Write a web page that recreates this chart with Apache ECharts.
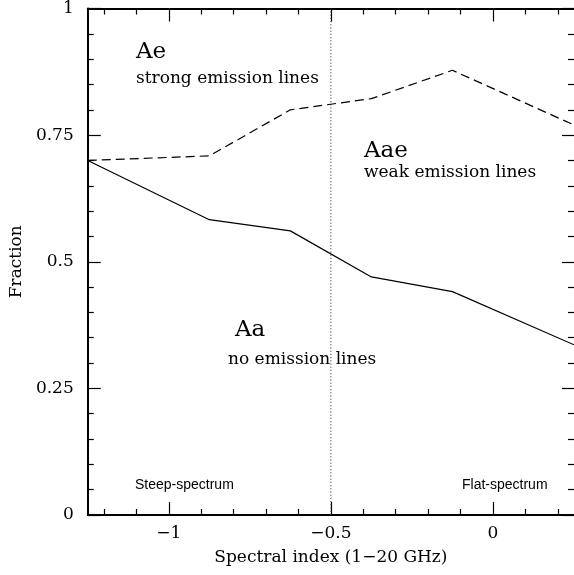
<!DOCTYPE html>
<html>
<head>
<meta charset="utf-8">
<script src="https://cdn.jsdelivr.net/npm/echarts@6/dist/echarts.min.js"></script>
<style>
  html, body { margin: 0; padding: 0; background: #fff; }
  #chart { width: 574px; height: 575px; }
</style>
</head>
<body>
<div id="chart"></div>
<script>
// Spectral-index bins and the fraction of sources in each emission-line class
const spectralIndex = [-1.25, -0.875, -0.625, -0.375, -0.125, 0.25];
const fracNoEmission = [0.700, 0.583, 0.561, 0.470, 0.441, 0.336];   // Aa boundary (solid)
const fracUpToWeak   = [0.700, 0.709, 0.800, 0.822, 0.878, 0.770];   // Aae / Ae boundary (dashed)

// Steep / flat spectrum divide
const divideIndex = -0.5;
const divideLine = [[divideIndex, 0], [divideIndex, 1]];

// Axis ranges and ticks
const xRange = [-1.25, 0.25];
const yRange = [0, 1];
const xMajorTicks = [-1, -0.5, 0];
const xMinorTicks = [-1.2, -1.1, -0.9, -0.8, -0.7, -0.6, -0.4, -0.3, -0.2, -0.1, 0.1, 0.2];
const yMajorTicks = [0, 0.25, 0.5, 0.75, 1];
const yMinorTicks = [0.05, 0.1, 0.15, 0.2, 0.3, 0.35, 0.4, 0.45, 0.55, 0.6, 0.65, 0.7, 0.8, 0.85, 0.9, 0.95];

const SERIF = '"DejaVu Serif", serif';
const SANS = '"Liberation Sans", Arial, sans-serif';
const minus = v => String(v).replace('-', '\u2212');

function zipXY(xs, ys) { return xs.map((x, i) => [x, ys[i]]); }

function xAxisDef(position, ticks, len, opts) {
  return Object.assign({
    type: 'value', position: position, min: xRange[0], max: xRange[1],
    axisLine: { show: false, onZero: false },
    axisTick: { show: true, inside: true, length: len, customValues: ticks, lineStyle: { color: '#000', width: 1.2 } },
    axisLabel: { show: false },
    splitLine: { show: false }
  }, opts || {});
}
function yAxisDef(position, ticks, len, opts) {
  return Object.assign({
    type: 'value', position: position, min: yRange[0], max: yRange[1],
    axisLine: { show: false, onZero: false },
    axisTick: { show: true, inside: true, length: len, customValues: ticks, lineStyle: { color: '#000', width: 1.2 } },
    axisLabel: { show: false },
    splitLine: { show: false }
  }, opts || {});
}

const chart = echarts.init(document.getElementById('chart'), null, { renderer: 'canvas' });

const option = {
  backgroundColor: '#fff',
  animation: false,
  grid: { left: 87, right: 0, top: 7, bottom: 60, containLabel: false },
  xAxis: [
    xAxisDef('bottom', xMajorTicks, 13, {
      axisLine: { show: true, onZero: false, lineStyle: { color: '#000', width: 2 } },
      axisLabel: {
        show: true, customValues: xMajorTicks, margin: 10, formatter: minus,
        color: '#000', fontFamily: SERIF, fontSize: 17
      },
      name: 'Spectral index (1\u221220 GHz)', nameLocation: 'middle', nameGap: 34,
      nameTextStyle: { color: '#000', fontFamily: SERIF, fontSize: 17 }
    }),
    xAxisDef('bottom', xMinorTicks, 6),
    xAxisDef('top', xMajorTicks, 13, {
      axisLine: { show: true, onZero: false, lineStyle: { color: '#000', width: 2 } }
    }),
    xAxisDef('top', xMinorTicks, 6)
  ],
  yAxis: [
    yAxisDef('left', yMajorTicks, 13, {
      axisLine: { show: true, onZero: false, lineStyle: { color: '#000', width: 2 } },
      axisLabel: {
        show: true, customValues: yMajorTicks, margin: 14,
        color: '#000', fontFamily: SERIF, fontSize: 17
      },
      name: 'Fraction', nameLocation: 'middle', nameGap: 61,
      nameTextStyle: { color: '#000', fontFamily: SERIF, fontSize: 17 }
    }),
    yAxisDef('left', yMinorTicks, 6),
    yAxisDef('right', yMajorTicks, 12),
    yAxisDef('right', yMinorTicks, 6)
  ],
  series: [
    {
      name: 'no emission', type: 'line', xAxisIndex: 0, yAxisIndex: 0,
      data: zipXY(spectralIndex, fracNoEmission),
      showSymbol: false, symbol: 'none',
      lineStyle: { color: '#000', width: 1.2, type: 'solid' },
      z: 3
    },
    {
      name: 'weak emission', type: 'line', xAxisIndex: 0, yAxisIndex: 0,
      data: zipXY(spectralIndex, fracUpToWeak),
      showSymbol: false, symbol: 'none',
      lineStyle: { color: '#000', width: 1.2, type: [9, 5] },
      z: 3
    },
    {
      name: 'divide', type: 'line', xAxisIndex: 0, yAxisIndex: 0,
      data: divideLine,
      showSymbol: false, symbol: 'none',
      lineStyle: { color: '#444', width: 1, type: [1.2, 2] },
      z: 2
    }
  ],
  graphic: [
    { type: 'text', left: 136, top: 41, style: { text: 'Ae', font: '23px ' + SERIF, fill: '#000' } },
    { type: 'text', left: 136, top: 70, style: { text: 'strong emission lines', font: '17px ' + SERIF, fill: '#000' } },
    { type: 'text', left: 364, top: 140, style: { text: 'Aae', font: '23px ' + SERIF, fill: '#000' } },
    { type: 'text', left: 364, top: 164, style: { text: 'weak emission lines', font: '17px ' + SERIF, fill: '#000' } },
    { type: 'text', left: 235, top: 319, style: { text: 'Aa', font: '23px ' + SERIF, fill: '#000' } },
    { type: 'text', left: 228, top: 351, style: { text: 'no emission lines', font: '17px ' + SERIF, fill: '#000' } },
    { type: 'text', left: 135, top: 478, style: { text: 'Steep-spectrum', font: '14px ' + SANS, fill: '#000' } },
    { type: 'text', left: 462, top: 478, style: { text: 'Flat-spectrum', font: '14px ' + SANS, fill: '#000' } }
  ]
};

chart.setOption(option);
</script>
</body>
</html>
